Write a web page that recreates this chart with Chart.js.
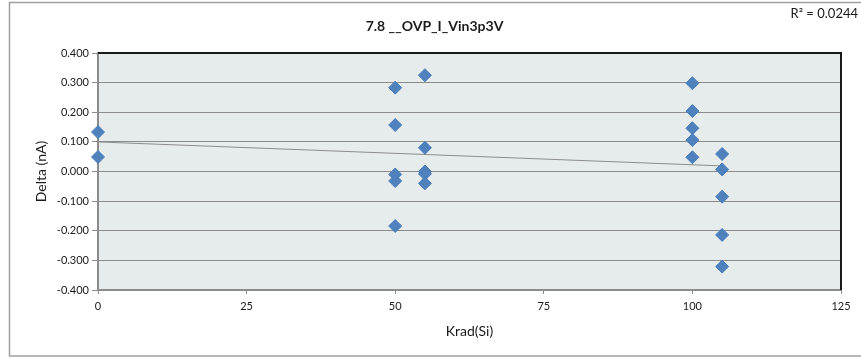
<!DOCTYPE html>
<html>
<head>
<meta charset="utf-8">
<script src="https://cdn.jsdelivr.net/npm/chart.js@4/dist/chart.umd.min.js"></script>
<style>
  html, body { margin: 0; padding: 0; background: #ffffff; }
  #wrap { width: 861px; height: 358px; position: relative; }
</style>
</head>
<body>
<div id="wrap"><canvas id="c" width="861" height="358"></canvas></div>
<script>
// ---- data ----
const chartTitle = "7.8 __OVP_I_Vin3p3V";
const rSquaredLabel = "R\u00b2 = 0.0244";
const xAxisTitle = "Krad(Si)";
const yAxisTitle = "Delta (nA)";
const kradValues = [0, 0,
  50, 50, 50, 50, 50,
  55, 55, 55, 55, 55,
  100, 100, 100, 100, 100,
  105, 105, 105, 105, 105];
const deltaValues = [0.133, 0.049,
  0.283, 0.157, -0.010, -0.032, -0.184,
  0.325, 0.080, 0.000, -0.008, -0.040,
  0.298, 0.204, 0.146, 0.106, 0.048,
  0.059, 0.007, -0.085, -0.214, -0.321];
const xTicks = [0, 25, 50, 75, 100, 125];
const yTicks = [-0.4, -0.3, -0.2, -0.1, 0.0, 0.1, 0.2, 0.3, 0.4];

// ---- linear trendline (least squares over the data) ----
const n = kradValues.length;
const mx = kradValues.reduce((a, b) => a + b, 0) / n;
const my = deltaValues.reduce((a, b) => a + b, 0) / n;
let sxy = 0, sxx = 0;
for (let i = 0; i < n; i++) {
  sxy += (kradValues[i] - mx) * (deltaValues[i] - my);
  sxx += (kradValues[i] - mx) * (kradValues[i] - mx);
}
const slope = sxy / sxx;
const intercept = my - slope * mx;
const xMinData = Math.min(...kradValues), xMaxData = Math.max(...kradValues);
const trendPoints = [
  { x: xMinData, y: intercept + slope * xMinData },
  { x: xMaxData, y: intercept + slope * xMaxData }
];

const points = kradValues.map((x, i) => ({ x: x, y: deltaValues[i] }));

const FONT = "Lato, 'Open Sans', 'Liberation Sans', sans-serif";

const framePlugin = {
  id: 'frame',
  beforeDraw(chart) {
    const { ctx, chartArea: a, width, height } = chart;
    ctx.save();
    ctx.fillStyle = '#ffffff';
    ctx.fillRect(0, 0, width, height);
    ctx.strokeStyle = '#a0a0a0';
    ctx.lineWidth = 1.5;
    ctx.strokeRect(9.5, 2.5, width + 5, height - 4.5);
    ctx.fillStyle = '#E6ECEC';
    ctx.fillRect(a.left, a.top, a.right - a.left, a.bottom - a.top);
    ctx.restore();
  },
  beforeDatasetsDraw(chart) {
    const { ctx, chartArea: a, width } = chart;
    ctx.save();
    ctx.strokeStyle = '#1a1a1a';
    ctx.lineWidth = 2;
    ctx.beginPath();
    ctx.moveTo(a.left, a.top);
    ctx.lineTo(a.right, a.top);
    ctx.lineTo(a.right, a.bottom);
    ctx.stroke();
    ctx.fillStyle = '#1a1a1a';
    ctx.font = "13px " + FONT;
    ctx.textAlign = 'right';
    ctx.textBaseline = 'middle';
    ctx.fillText(rSquaredLabel, width - 3, 14);
    ctx.restore();
  }
};

new Chart(document.getElementById('c'), {
  type: 'scatter',
  data: {
    datasets: [
      {
        label: 'Delta',
        data: points,
        pointStyle: 'rectRot',
        pointRadius: 6.5,
        pointHoverRadius: 6.5,
        backgroundColor: '#4F81BD',
        borderColor: '#4A7EBB',
        borderWidth: 1,
        clip: false,
        order: 1
      },
      {
        type: 'line',
        label: 'Trend',
        data: trendPoints,
        borderColor: '#8c8c8c',
        borderWidth: 1,
        pointRadius: 0,
        fill: false,
        order: 2
      }
    ]
  },
  options: {
    responsive: false,
    animation: false,
    events: [],
    layout: { padding: { left: 28, right: 20, top: 0, bottom: 0 } },
    plugins: {
      legend: { display: false },
      tooltip: { enabled: false },
      title: {
        display: true,
        text: chartTitle,
        color: '#1a1a1a',
        font: { family: FONT, size: 14, weight: 'bold', lineHeight: 1.2 },
        padding: { top: 18, bottom: 18.2 }
      }
    },
    scales: {
      x: {
        type: 'linear',
        min: 0,
        max: 125,
        afterBuildTicks: (scale) => { scale.ticks = xTicks.map(v => ({ value: v })); },
        afterFit: (scale) => { scale.height = 68; },
        ticks: {
          color: '#1a1a1a',
          font: { family: FONT, size: 11 },
          padding: 6,
          maxRotation: 0,
          autoSkip: false
        },
        grid: {
          drawOnChartArea: false,
          drawTicks: true,
          tickLength: 4,
          color: '#8c8c8c',
          lineWidth: 1
        },
        border: { color: '#8c8c8c', width: 2 },
        title: {
          display: true,
          text: xAxisTitle,
          color: '#1a1a1a',
          font: { family: FONT, size: 14, lineHeight: 1.2 },
          padding: { top: 4, bottom: 18.6 }
        }
      },
      y: {
        type: 'linear',
        min: -0.4,
        max: 0.4,
        afterBuildTicks: (scale) => { scale.ticks = yTicks.map(v => ({ value: v })); },
        afterFit: (scale) => { scale.width = 70; },
        ticks: {
          color: '#1a1a1a',
          font: { family: FONT, size: 11 },
          padding: 3,
          callback: (v) => Number(v).toFixed(3)
        },
        grid: {
          drawOnChartArea: true,
          drawTicks: true,
          tickLength: 6,
          color: '#8c8c8c',
          lineWidth: 1
        },
        border: { color: '#8c8c8c', width: 2 },
        title: {
          display: true,
          text: yAxisTitle,
          color: '#1a1a1a',
          font: { family: FONT, size: 14, lineHeight: 1.2 },
          padding: { top: 4.6, bottom: 2 }
        }
      }
    }
  },
  plugins: [framePlugin]
});
</script>
</body>
</html>
